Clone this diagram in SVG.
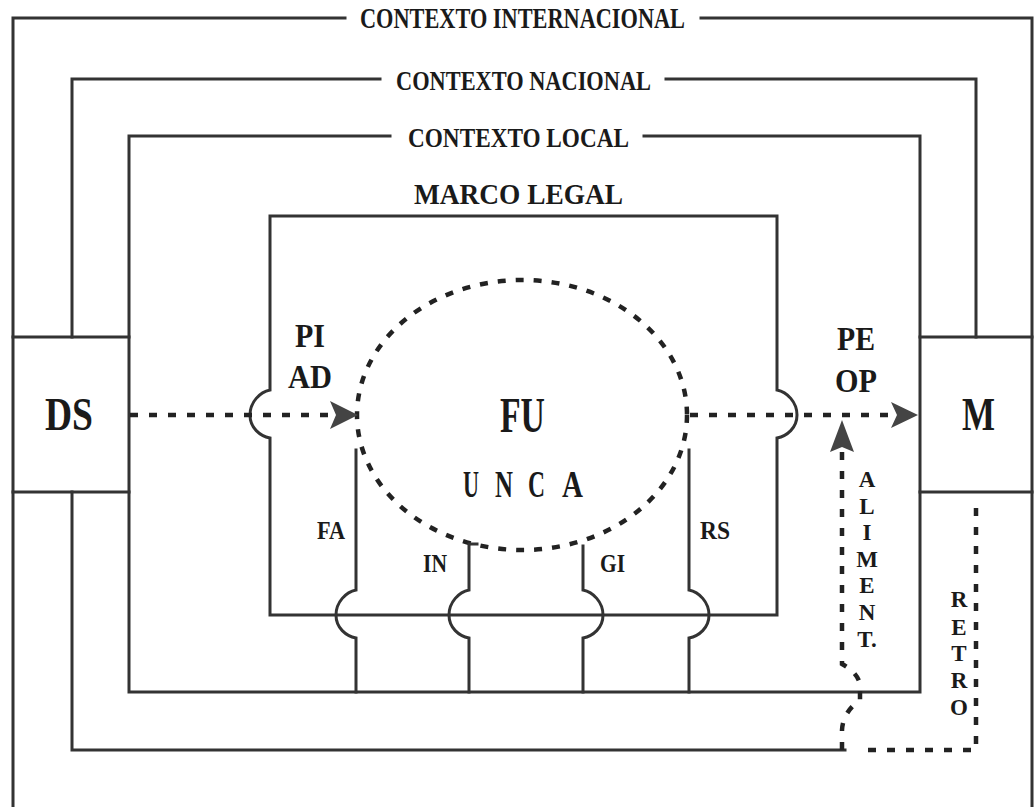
<svg xmlns="http://www.w3.org/2000/svg" width="1036" height="807" viewBox="0 0 1036 807">
<style>
.ln{fill:none;stroke:#333;stroke-width:3;stroke-linecap:square;stroke-linejoin:miter}
.ds{fill:none;stroke:#222;stroke-width:4.5;stroke-dasharray:8 11}
.cd{fill:none;stroke:#222;stroke-width:4.5;stroke-dasharray:8 10}
.t{font-family:"Liberation Serif","Times New Roman",serif;font-weight:bold;fill:#1a1a1a}
.v{font-size:23px;text-anchor:middle}
.ah{fill:#444}
</style>
<rect width="1036" height="807" fill="#fff"/>
<g id="contexto-internacional">
<path class="ln" d="M345,18 H13 V807 M701,18 H1032 V807"/>
<text class="t" x="360" y="28" font-size="29" textLength="325" lengthAdjust="spacingAndGlyphs">CONTEXTO INTERNACIONAL</text>
</g>
<g id="contexto-nacional">
<path class="ln" d="M380,79 H72 V337 M72,492 V750 H845 M666,79 H976 V337"/>
<text class="t" x="396" y="90" font-size="28" textLength="255" lengthAdjust="spacingAndGlyphs">CONTEXTO NACIONAL</text>
</g>
<g id="contexto-local">
<path class="ln" d="M390,136 H129 V692 H920 V136 H644"/>
<text class="t" x="408" y="147" font-size="28" textLength="221" lengthAdjust="spacingAndGlyphs">CONTEXTO LOCAL</text>
</g>
<g id="marco-legal">
<path class="ln" d="M270,390 V216 H777 V390 C787,392 797,402 797,415 C797,428 787,436 777,438 V615 H270 V438 C260,436 250,428 250,415 C250,402 260,392 270,390 Z"/>
<text class="t" x="414" y="204" font-size="30" textLength="209" lengthAdjust="spacingAndGlyphs">MARCO LEGAL</text>
</g>
<g id="ds">
<path class="ln" d="M13,337 H129 M13,492 H129"/>
<text class="t" x="45" y="430" font-size="47" textLength="48" lengthAdjust="spacingAndGlyphs">DS</text>
</g>
<g id="m">
<path class="ln" d="M920,337 H1032 M920,492 H1032"/>
<text class="t" x="962" y="430" font-size="47" textLength="33" lengthAdjust="spacingAndGlyphs">M</text>
</g>
<g id="fu">
<ellipse class="cd" cx="522" cy="415" rx="165" ry="135"/>
<text class="t" x="500" y="432" font-size="50" textLength="45" lengthAdjust="spacingAndGlyphs">FU</text>
<g class="t" font-size="37">
<text x="463" y="497" textLength="16" lengthAdjust="spacingAndGlyphs">U</text>
<text x="495" y="497" textLength="18" lengthAdjust="spacingAndGlyphs">N</text>
<text x="528" y="497" textLength="17" lengthAdjust="spacingAndGlyphs">C</text>
<text x="562" y="497" textLength="21" lengthAdjust="spacingAndGlyphs">A</text>
</g>
</g>
<g id="pi-ad">
<text class="t" x="295" y="347" font-size="33" textLength="30" lengthAdjust="spacingAndGlyphs">PI</text>
<text class="t" x="288" y="388" font-size="33" textLength="44" lengthAdjust="spacingAndGlyphs">AD</text>
</g>
<g id="pe-op">
<text class="t" x="837" y="350" font-size="33" textLength="38" lengthAdjust="spacingAndGlyphs">PE</text>
<text class="t" x="835" y="392" font-size="33" textLength="42" lengthAdjust="spacingAndGlyphs">OP</text>
</g>
<g id="fa">
<path class="ln" d="M356,450 V590 C346,592 336,602 336,615 C336,628 346,636 356,638 V692"/>
<text class="t" x="317" y="539" font-size="26" textLength="28" lengthAdjust="spacingAndGlyphs">FA</text>
</g>
<g id="in">
<path class="ln" d="M477,544 H469 V590 C459,592 449,602 449,615 C449,628 459,636 469,638 V692"/>
<text class="t" x="423" y="572" font-size="26" textLength="24" lengthAdjust="spacingAndGlyphs">IN</text>
</g>
<g id="gi">
<path class="ln" d="M583,546 V590 C593,592 603,602 603,615 C603,628 593,636 583,638 V692"/>
<text class="t" x="600" y="572" font-size="26" textLength="25" lengthAdjust="spacingAndGlyphs">GI</text>
</g>
<g id="rs">
<path class="ln" d="M689,450 V590 C699,592 709,602 709,615 C709,628 699,636 689,638 V692"/>
<text class="t" x="700" y="539" font-size="26" textLength="30" lengthAdjust="spacingAndGlyphs">RS</text>
</g>
<g id="connectors">
<path class="ds" d="M130,415 H332"/>
<path class="ah" d="M330,401 L358,415 L330,429 L336,415 Z"/>
<path class="ds" d="M690,415 H894"/>
<path class="ah" d="M891,402 L918,415 L891,428 L897,415 Z"/>
<path class="ds" d="M842,750 V730 Q843,712 860,700 V684 Q857,672 842,664 V452"/>
<path class="ah" d="M842,420 L854,452 L842,447 L830,452 Z"/>
<path class="ds" d="M976,508 V750 H858"/>
</g>
<g id="aliment" class="t v">
<text x="867" y="487">A</text>
<text x="867" y="514">L</text>
<text x="867" y="540">I</text>
<text x="867" y="567">M</text>
<text x="867" y="593">E</text>
<text x="867" y="620">N</text>
<text x="867" y="647">T.</text>
</g>
<g id="retro" class="t v">
<text x="959" y="607">R</text>
<text x="959" y="635">E</text>
<text x="959" y="661">T</text>
<text x="959" y="688">R</text>
<text x="959" y="715">O</text>
</g>
</svg>
